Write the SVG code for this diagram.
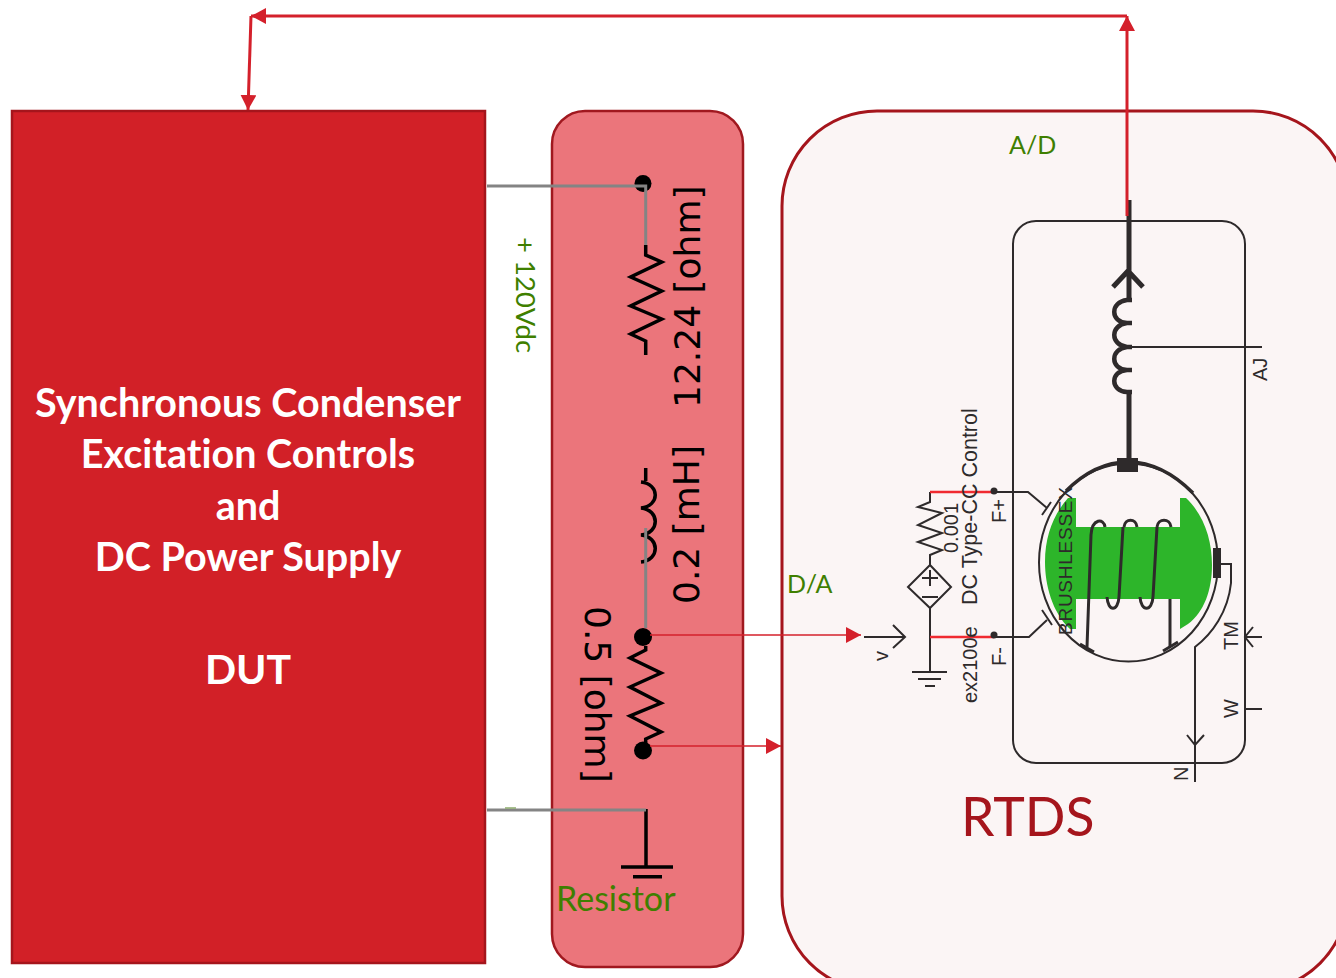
<svg xmlns="http://www.w3.org/2000/svg" width="1336" height="978" viewBox="0 0 1336 978">
<style>
.lato{font-family:Lato,"Open Sans",sans-serif;font-variant-ligatures:none}
.dj{font-family:"DejaVu Sans",sans-serif;fill:#000;font-size:36px}
.grn{fill:#3f7f00}
.sch{font-family:"Liberation Sans",Arial,sans-serif;fill:#2e2a2b;font-size:20px}
.blk{fill:none;stroke:#000;stroke-width:3.5}
.gry{fill:none;stroke:#848484;stroke-width:3}
.ln{fill:none;stroke:#2e2a2b;stroke-width:2}
.ln3{fill:none;stroke:#2e2a2b;stroke-width:3}
.ln5{fill:none;stroke:#2e2a2b;stroke-width:5}
.red{fill:none;stroke:#d4202b;stroke-width:3}
.thin{fill:none;stroke:#d4202b;stroke-width:1.5}
.rr{fill:none;stroke:#f02a30;stroke-width:2.5}
.tt{font-family:Lato,"Open Sans",sans-serif;font-variant-ligatures:none;font-weight:700;fill:#fff;font-size:39.500px;text-anchor:middle}
</style>
<defs>
<marker id="a" markerUnits="userSpaceOnUse" markerWidth="16" markerHeight="16" refX="15" refY="8" orient="auto"><path d="M0 0L15 8L0 16Z" fill="#d4202b"/></marker>
</defs>
<rect width="1336" height="978" fill="#fff"/>
<g id="dut">
<rect x="12" y="111" width="473" height="852" fill="#d22027" stroke="#a5151c" stroke-width="2.5"/>
<text class="tt" x="248" y="417">Synchronous Condenser</text>
<text class="tt" x="248" y="468">Excitation Controls</text>
<text class="tt" x="248" y="520">and</text>
<text class="tt" x="248" y="571">DC Power Supply</text>
<text class="tt" x="248" y="684" style="font-size:41px">DUT</text>
</g>
<g id="resistor">
<rect x="552" y="111" width="191" height="856" rx="33" fill="#eb757b" stroke="#a0181f" stroke-width="2.5"/>
<path class="blk" d="M645.700 245V255L661.700 262L630.700 277L661.700 291L630.700 306L661.700 319L630.700 334L645.700 341V355"/>
<path class="blk" d="M645.700 468V481M641 482C660 484 660 506 641 508C660 510 660 533 641 535C660 537 660 560 641 562"/>
<path class="blk" d="M645.700 646V650L630 658L661 673L630 687L661 703L630 716L661 732L645.700 739V746"/>
<path class="blk" d="M646 809V867M621 867H673M633 876.700H662"/>
<circle cx="643" cy="183.500" r="8.500" fill="#000"/>
<circle cx="643" cy="637" r="9" fill="#000"/>
<circle cx="643" cy="750.500" r="9" fill="#000"/>
<text class="dj" transform="translate(700 408) rotate(-90)">12.24 [ohm]</text>
<text class="dj" transform="translate(699 604) rotate(-90)">0.2 [mH]</text>
<text class="dj" transform="translate(585 606) rotate(90)">0.5 [ohm]</text>
<text class="lato grn" x="556" y="911" style="font-size:34px">Resistor</text>
</g>
<g id="rtds">
<rect x="782" y="111" width="566" height="880" rx="95" fill="#fbf5f5" stroke="#a5151c" stroke-width="3"/>
<text class="lato" x="961" y="836" fill="#a5151c" style="font-size:53.500px">RTDS</text>
<text class="lato grn" x="1009" y="154" style="font-size:25px">A/D</text>
</g>
<g id="machine">
<rect x="1013" y="221" width="232" height="542" rx="23" class="ln"/>
<ellipse cx="1128.500" cy="562.500" rx="89.500" ry="99" fill="#fbf5f5" stroke="#2e2a2b" stroke-width="2"/>
<path class="ln3" style="stroke-width:3.500" d="M1066 491C1105 452 1152 452 1193 493"/>
<path d="M1076 498V527H1180V498H1186C1204 515 1212 540 1212 565C1212 590 1204 612 1188 624L1180 629V599H1076V629H1070C1052 612 1045 585 1045 562C1045 535 1054 514 1068 498Z" fill="#2db52a"/>
<path class="ln3" d="M1087 647L1091 535C1092 518 1104 518 1105 527M1124 527C1125 518 1136 518 1137 527M1157 527C1158 518 1170 518 1171 527M1119 597L1123 527M1153 597L1157 527M1107 597C1108 612 1118 612 1119 597M1140 597C1141 612 1152 612 1153 597M1170 599V647"/>
<path class="ln3" d="M1080 644L1094 652M1163 651L1178 642"/>
<path class="ln5" d="M1129 200V298M1113 287L1128 271L1143 287M1129 392V462"/>
<path class="ln5" style="stroke-width:4.500" d="M1132 300H1127C1110 302 1110 322 1127 323H1132M1132 347H1127C1110 345 1110 325 1127 323M1127 347C1110 349 1110 369 1127 370H1132M1132 392H1127C1110 391 1110 371 1127 370"/>
<rect x="1117" y="458" width="21" height="14" fill="#2e2a2b"/>
<path class="ln" d="M1132 347H1262"/>
<text class="sch" transform="translate(1267 381) rotate(-90)">AJ</text>
<rect x="1213" y="548" width="8" height="30" fill="#2e2a2b"/>
<path class="ln" d="M1221 564H1231V583C1228 612 1212 634 1195 647V782M1187 735L1195 745L1204 735"/>
<path class="ln" d="M1245 637H1262M1253 627L1245 637L1253 647M1245 709H1262"/>
<text class="sch" transform="translate(1238 650) rotate(-90)">TM</text>
<text class="sch" transform="translate(1238 718) rotate(-90)">W</text>
<text class="sch" transform="translate(1188 781) rotate(-90)">N</text>
<path class="ln" d="M930 492V502L918 507L942 513L918 525L942 533L918 542L942 550L930 555V565L951 587L930 608L908 587L930 565M930 608V672M912 672H947M918 679H941M925 686H935"/>
<path class="ln" d="M922 578H938M930 570V586M922 597H938"/>
<path class="ln" d="M994 492H1028L1047 508M1042 515L1051 502M994 637H1029L1047 620M1042 610L1052 625"/>
<path class="rr" d="M930 492H994M930 637H994"/>
<circle cx="994" cy="491" r="3.500" fill="#2e2a2b"/>
<circle cx="994" cy="635" r="3.500" fill="#2e2a2b"/>
<path class="ln" d="M864 637H905M893 625L905 637L893 648"/>
<text class="sch" transform="translate(888 661) rotate(-90)">v</text>
<text class="sch" transform="translate(958 553) rotate(-90)">0.001</text>
<text class="sch" transform="translate(977 605) rotate(-90)" style="font-size:21.500px">DC Type-CC Control</text>
<text class="sch" transform="translate(977 703) rotate(-90)">ex2100e</text>
<text class="sch" transform="translate(1006 523) rotate(-90)">F+</text>
<text class="sch" transform="translate(1006 666) rotate(-90)">F-</text>
<text class="sch" transform="translate(1072 635) rotate(-90)" textLength="148" lengthAdjust="spacing" style="font-size:19px">BRUSHLESSEX</text>
</g>
<g id="connectors">
<path class="gry" d="M487 186H645.700V245M645.700 528V628M487 810H646"/>
<path d="M505 808H516" stroke="#8cab6c" stroke-width="1.500" fill="none"/>
<path class="red" d="M1127 216V16" marker-end="url(#a)"/>
<path class="red" d="M1127 16H251" marker-end="url(#a)"/>
<path class="red" d="M251 16L248 110" marker-end="url(#a)"/>
<path class="thin" d="M650 635H861" marker-end="url(#a)"/>
<path class="thin" d="M650 746H781" marker-end="url(#a)"/>
</g>
<text class="lato grn" transform="translate(516 237) rotate(90)" style="font-size:27.500px">+ 120Vdc</text>
<text class="lato grn" x="787" y="593" style="font-size:25px">D/A</text>
</svg>
